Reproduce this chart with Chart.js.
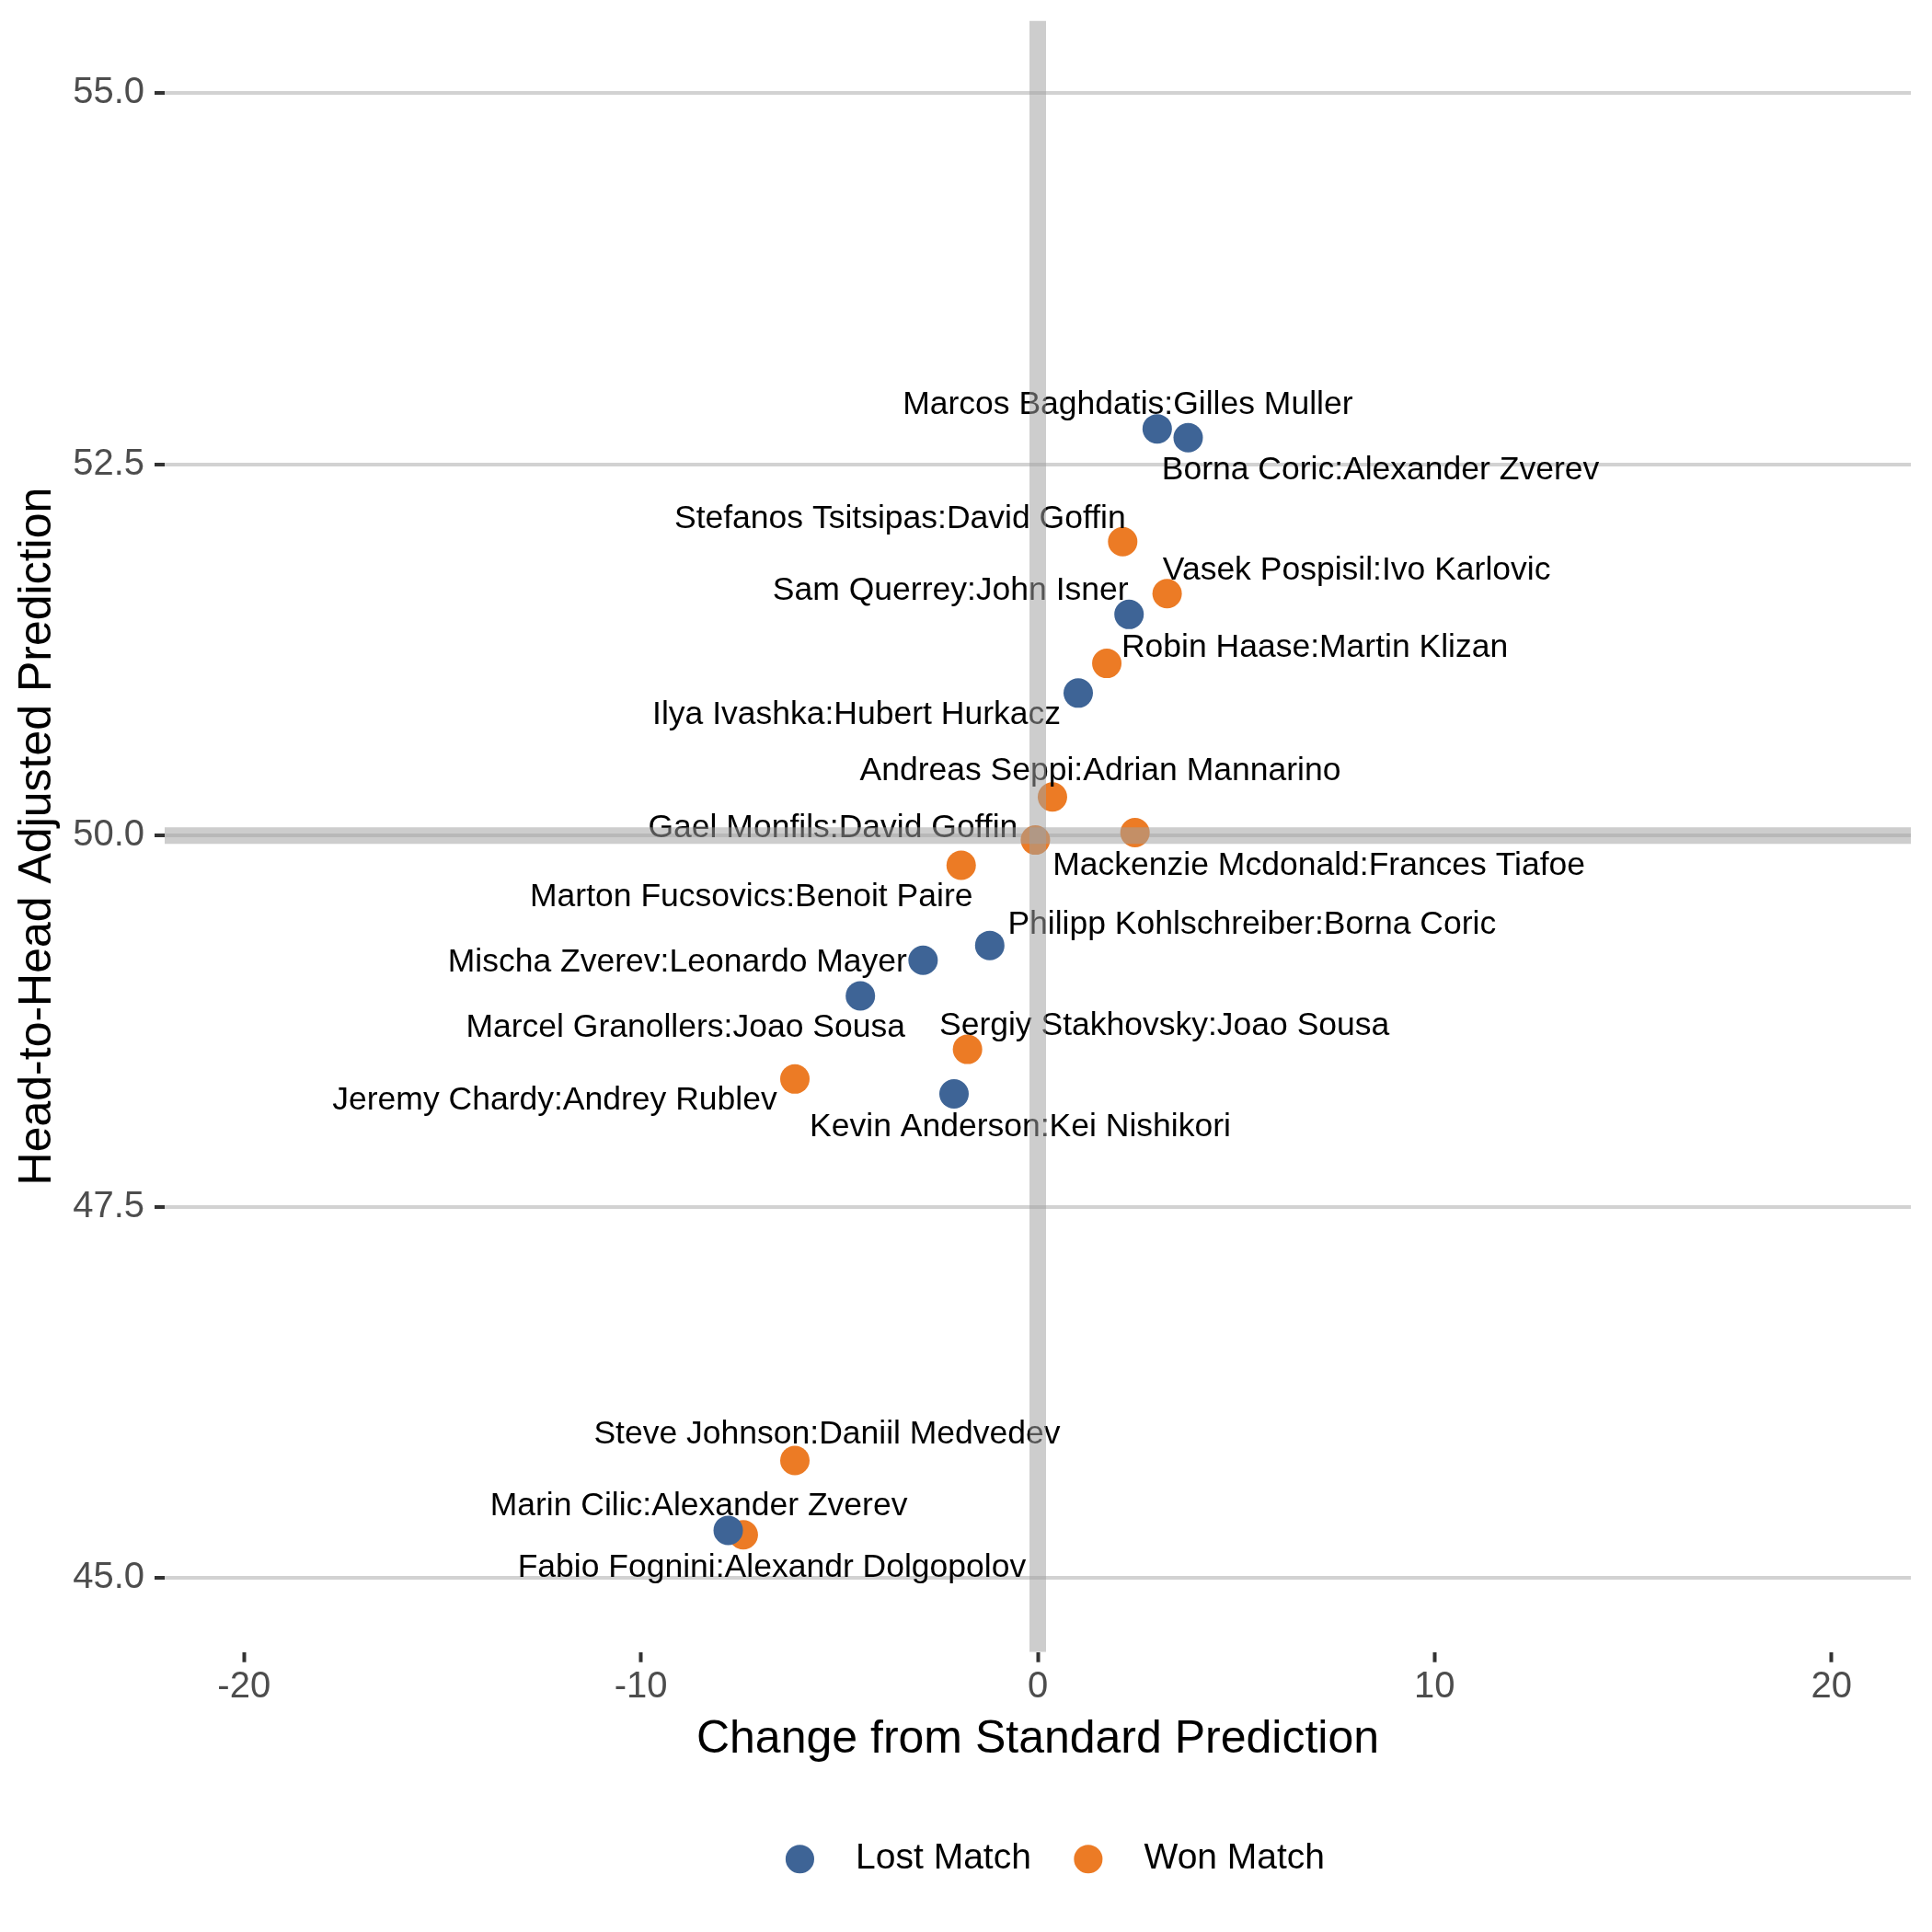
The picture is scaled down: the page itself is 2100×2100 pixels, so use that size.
<!DOCTYPE html>
<html lang="en">
<head>
  <meta charset="UTF-8">
  <title>Head-to-Head Adjusted Prediction</title>
  <script src="https://cdn.jsdelivr.net/npm/chart.js"></script>
  <style>
    html, body { margin: 0; padding: 0; background: #ffffff; }
    #wrap { width: 2100px; height: 2100px; }
  </style>
</head>
<body>
  <div id="wrap"><canvas id="h2hChart"></canvas></div>

  <script>
    // Matches the player lost
    const lostNames = [
      'Marcos Baghdatis:Gilles Muller',
      'Borna Coric:Alexander Zverev',
      'Sam Querrey:John Isner',
      'Ilya Ivashka:Hubert Hurkacz',
      'Philipp Kohlschreiber:Borna Coric',
      'Mischa Zverev:Leonardo Mayer',
      'Marcel Granollers:Joao Sousa',
      'Kevin Anderson:Kei Nishikori',
      'Marin Cilic:Alexander Zverev'
    ];
    const lostChange = [3.01, 3.79, 2.30, 1.02, -1.21, -2.89, -4.47, -2.11, -7.80];
    const lostH2H = [52.74, 52.68, 51.49, 50.96, 49.26, 49.16, 48.92, 48.26, 45.32];

    // Matches the player won
    const wonNames = [
      'Stefanos Tsitsipas:David Goffin',
      'Vasek Pospisil:Ivo Karlovic',
      'Robin Haase:Martin Klizan',
      'Andreas Seppi:Adrian Mannarino',
      'Mackenzie Mcdonald:Frances Tiafoe',
      'Gael Monfils:David Goffin',
      'Marton Fucsovics:Benoit Paire',
      'Sergiy Stakhovsky:Joao Sousa',
      'Jeremy Chardy:Andrey Rublev',
      'Steve Johnson:Daniil Medvedev',
      'Fabio Fognini:Alexandr Dolgopolov'
    ];
    const wonChange = [2.14, 3.26, 1.74, 0.37, 2.45, -0.06, -1.93, -1.77, -6.12, -6.12, -7.42];
    const wonH2H = [51.98, 51.63, 51.16, 50.26, 50.02, 49.97, 49.80, 48.56, 48.36, 45.79, 45.29];

    const xTicks = [-20, -10, 0, 10, 20];
    const yTicks = [45, 47.5, 50, 52.5, 55];
    const refChange = 0;   // vertical reference line
    const refH2H = 50;     // horizontal reference line

    // label placement (pixels from the point centre), repel-style
    const lostLabelOffset = [[-32, -26], [209, 35], [-194, -26], [-241, 24], [285, -22],
                             [-267, 2], [-190, 35], [72, 36], [-32, -26]];
    const wonLabelOffset = [[-242, -25], [206, -25], [226, -17], [52, -28], [200, 36],
                            [-220, -13], [-228, 35], [214, -25], [-261, 23], [35, -28], [31, 36]];

    const BLUE = '#3e6496';
    const ORANGE = '#ec7b25';
    const FONT = '"Liberation Sans", Arial, Helvetica, sans-serif';
    const LEGEND_SHIFT = 17; // legend sits a little right of the panel centre

    Chart.defaults.font.family = FONT;

    const toPoints = (xs, ys) => xs.map((x, i) => ({x: x, y: ys[i]}));

    // text labels first, then the translucent reference bands over everything
    const overlayPlugin = {
      id: 'overlay',
      afterUpdate(chart) {
        chart.legend.left += LEGEND_SHIFT;
        chart.legend.right += LEGEND_SHIFT;
      },
      afterDatasetsDraw(chart) {
        const ctx = chart.ctx;
        const area = chart.chartArea;
        const offsets = [lostLabelOffset, wonLabelOffset];
        const names = [lostNames, wonNames];

        ctx.save();
        ctx.font = '35.5px ' + FONT;
        ctx.fillStyle = '#000000';
        ctx.textAlign = 'center';
        ctx.textBaseline = 'middle';
        chart.data.datasets.forEach((ds, d) => {
          chart.getDatasetMeta(d).data.forEach((pt, i) => {
            ctx.fillText(names[d][i], pt.x + offsets[d][i][0], pt.y + offsets[d][i][1]);
          });
        });
        ctx.restore();

        const xs = chart.scales.x.getPixelForValue(refChange);
        const ys = chart.scales.y.getPixelForValue(refH2H);
        ctx.save();
        ctx.beginPath();
        ctx.rect(area.left, area.top, area.right - area.left, area.bottom - area.top);
        ctx.clip();
        ctx.strokeStyle = 'rgba(160, 160, 160, 0.53)';
        ctx.lineWidth = 18;
        ctx.beginPath();
        ctx.moveTo(xs, area.top);
        ctx.lineTo(xs, area.bottom);
        ctx.stroke();
        ctx.beginPath();
        ctx.moveTo(area.left, ys);
        ctx.lineTo(area.right, ys);
        ctx.stroke();
        ctx.restore();
      }
    };

    new Chart(document.getElementById('h2hChart'), {
      type: 'scatter',
      data: {
        datasets: [
          {
            label: 'Lost Match',
            data: toPoints(lostChange, lostH2H),
            backgroundColor: BLUE,
            borderWidth: 0,
            pointRadius: 16,
            pointHoverRadius: 16,
            pointStyle: 'circle'
          },
          {
            label: 'Won Match',
            data: toPoints(wonChange, wonH2H),
            backgroundColor: ORANGE,
            borderWidth: 0,
            pointRadius: 16,
            pointHoverRadius: 16,
            pointStyle: 'circle'
          }
        ]
      },
      options: {
        responsive: true,
        maintainAspectRatio: false,
        animation: false,
        devicePixelRatio: 1,
        events: [],
        layout: {
          padding: {top: 22.4, right: 23, bottom: 49.8, left: 0}
        },
        scales: {
          x: {
            type: 'linear',
            min: -22,
            max: 22,
            afterBuildTicks: s => { s.ticks = xTicks.map(v => ({value: v})); },
            afterFit: s => { s.height = 163; },
            border: {display: false},
            grid: {
              drawOnChartArea: false,
              drawTicks: true,
              tickLength: 11,
              tickWidth: 4,
              tickColor: '#333333'
            },
            ticks: {
              padding: 3,
              color: '#4d4d4d',
              font: {size: 40},
              maxRotation: 0,
              callback: v => String(v)
            },
            title: {
              display: true,
              text: 'Change from Standard Prediction',
              color: '#000000',
              font: {size: 50},
              padding: {top: 0, bottom: 37.7}
            }
          },
          y: {
            type: 'linear',
            min: 44.5,
            max: 55.49,
            afterBuildTicks: s => { s.ticks = yTicks.map(v => ({value: v})); },
            afterFit: s => {
              s.width = 179;
              s.paddingTop = 0;
              s.paddingBottom = 0;
            },
            border: {display: false},
            grid: {
              color: '#d2d2d2',
              lineWidth: 4,
              drawTicks: true,
              tickLength: 11,
              tickWidth: 4,
              tickColor: '#333333'
            },
            ticks: {
              padding: 11,
              color: '#4d4d4d',
              font: {size: 40},
              callback: v => v.toFixed(1)
            },
            title: {
              display: true,
              text: 'Head-to-Head Adjusted Prediction',
              color: '#000000',
              font: {size: 50},
              padding: {top: 11, bottom: 0}
            }
          }
        },
        plugins: {
          tooltip: {enabled: false},
          legend: {
            display: true,
            position: 'bottom',
            fullSize: false,
            labels: {
              usePointStyle: true,
              boxHeight: 22,
              padding: 42.5,
              color: '#000000',
              font: {size: 39},
              generateLabels: chart => Chart.defaults.plugins.legend.labels.generateLabels(chart)
                .map(item => Object.assign(item, {text: '  ' + item.text, lineWidth: 0}))
            }
          }
        }
      },
      plugins: [overlayPlugin]
    });
  </script>
</body>
</html>
